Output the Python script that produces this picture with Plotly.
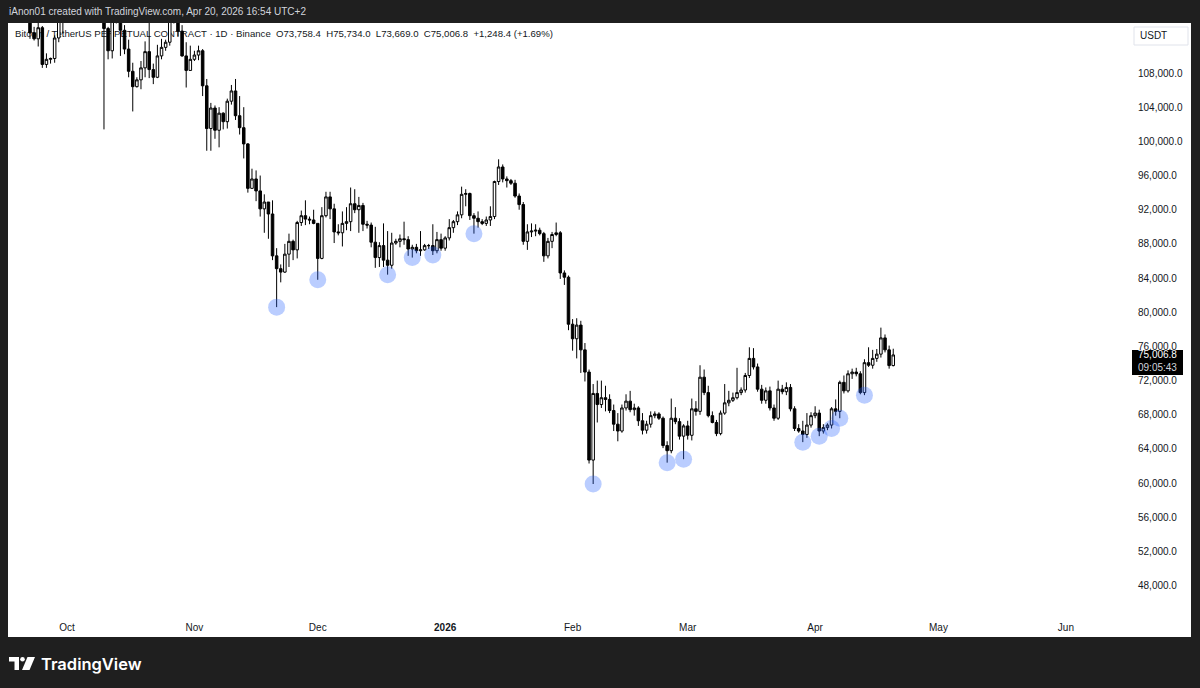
import plotly.graph_objects as go
import pandas as pd

# ---------------- data: daily OHLC in thousands of USDT (O, H, L, C) ----------------
sep_2025 = [  # from Sep 16
    (115.3, 117.0, 114.8, 116.8), (116.8, 117.3, 114.7, 116.5), (116.5, 117.9, 116.2, 117.1),
    (117.1, 117.4, 115.4, 115.7), (115.7, 116.2, 115.5, 115.7), (115.7, 115.9, 115.2, 115.3),
    (115.3, 115.4, 112.0, 112.7), (112.7, 113.4, 111.8, 112.0), (112.0, 114.0, 111.1, 113.3),
    (113.3, 113.5, 108.6, 109.0), (109.0, 110.3, 108.6, 109.6), (109.6, 109.8, 109.1, 109.7),
    (109.7, 112.4, 109.2, 112.1), (112.1, 114.5, 111.6, 114.4), (114.4, 114.8, 112.6, 114.0),
]
oct_2025 = [
    (114.0, 118.6, 113.9, 118.6), (118.6, 121.0, 118.3, 120.6), (120.6, 123.9, 119.3, 122.3),
    (122.3, 122.9, 121.6, 122.4), (122.4, 125.1, 122.0, 123.5), (123.5, 126.2, 123.0, 124.7),
    (124.7, 125.1, 120.6, 121.4), (121.4, 124.1, 121.0, 123.3), (123.3, 123.7, 119.6, 121.7),
    (121.7, 122.5, 101.4, 113.2), (113.2, 113.4, 109.6, 110.6), (110.6, 115.8, 109.7, 115.2),
    (115.2, 116.0, 113.8, 115.3), (115.3, 115.4, 110.0, 113.0), (113.0, 113.6, 110.2, 110.8),
    (110.8, 111.9, 107.5, 108.2), (108.2, 109.2, 103.5, 106.4), (106.4, 107.5, 106.3, 107.2),
    (107.2, 109.4, 106.1, 108.6), (108.6, 111.7, 107.5, 110.5), (110.5, 114.0, 107.4, 108.4),
    (108.4, 109.1, 106.7, 107.5), (107.5, 111.3, 107.4, 110.0), (110.0, 112.0, 109.6, 111.0),
    (111.0, 111.9, 110.6, 111.6), (111.6, 115.4, 111.2, 114.5), (114.5, 116.4, 113.8, 114.1),
    (114.1, 116.1, 112.3, 112.9), (112.9, 113.6, 109.9, 110.0), (110.0, 111.6, 106.3, 108.3),
    (108.3, 111.2, 108.3, 109.6),
]
nov_2025 = [
    (109.6, 110.6, 109.4, 110.1), (110.1, 111.2, 109.5, 110.6), (110.6, 110.8, 105.3, 106.5),
    (106.5, 107.3, 98.9, 101.5), (101.5, 104.5, 98.9, 103.9), (103.9, 104.2, 100.3, 101.3),
    (101.3, 104.0, 99.3, 103.3), (103.3, 103.4, 101.4, 102.3), (102.3, 105.0, 101.5, 104.7),
    (104.7, 106.6, 104.3, 105.9), (105.9, 107.3, 102.5, 103.0), (103.0, 105.3, 100.8, 101.6),
    (101.6, 104.0, 98.0, 99.7), (99.7, 99.8, 94.0, 94.5), (94.5, 96.8, 94.5, 95.6),
    (95.6, 96.6, 93.0, 94.2), (94.2, 96.0, 91.2, 92.1), (92.1, 93.8, 89.3, 92.9),
    (92.9, 92.9, 88.6, 91.5), (91.5, 93.1, 86.1, 86.6), (86.6, 87.5, 80.6, 85.1),
    (85.1, 85.6, 83.5, 84.7), (84.7, 88.0, 84.6, 86.8), (86.8, 89.2, 85.3, 88.3),
    (88.3, 88.5, 86.1, 87.3), (87.3, 90.7, 86.3, 90.5), (90.5, 91.9, 90.1, 91.3),
    (91.3, 93.1, 90.2, 90.9), (90.9, 91.2, 90.3, 90.8), (90.8, 92.0, 90.3, 90.4),
]
dec_2025 = [
    (90.4, 90.4, 83.8, 86.3), (86.3, 92.3, 86.2, 91.3), (91.3, 94.1, 91.1, 93.5),
    (93.5, 94.1, 90.9, 92.1), (92.1, 92.7, 88.1, 89.4), (89.4, 90.3, 89.0, 89.3),
    (89.3, 91.8, 87.7, 90.4), (90.4, 92.3, 89.6, 90.6), (90.6, 94.6, 89.5, 92.7),
    (92.7, 94.4, 91.6, 92.0), (92.0, 93.5, 89.3, 92.5), (92.5, 92.8, 89.5, 90.3),
    (90.3, 90.7, 89.8, 90.2), (90.2, 90.5, 87.6, 88.2), (88.2, 90.0, 85.2, 86.4),
    (86.4, 88.2, 85.3, 87.8), (87.8, 90.4, 85.3, 86.1), (86.1, 89.5, 84.4, 85.5),
    (85.5, 89.3, 85.1, 88.1), (88.1, 88.6, 87.9, 88.3), (88.3, 89.1, 87.6, 88.6),
    (88.6, 90.6, 87.9, 88.5), (88.5, 88.9, 86.6, 87.4), (87.4, 87.9, 86.4, 87.6),
    (87.6, 88.0, 86.9, 87.2), (87.2, 89.5, 86.6, 87.3), (87.3, 88.0, 87.2, 87.8),
    (87.8, 88.0, 87.4, 87.8), (87.8, 90.3, 86.7, 87.2), (87.2, 89.4, 86.9, 88.5),
    (88.5, 89.2, 87.2, 87.5),
]
jan_2026 = [
    (87.5, 88.9, 87.2, 88.7), (88.7, 90.9, 88.4, 89.9), (89.9, 90.8, 89.3, 90.6),
    (90.6, 91.8, 90.2, 91.4), (91.4, 94.7, 91.0, 93.8), (93.8, 94.4, 92.4, 93.9),
    (93.9, 94.0, 90.8, 91.3), (91.3, 91.6, 89.2, 91.0), (91.0, 91.8, 89.9, 90.6),
    (90.6, 90.9, 90.2, 90.4), (90.4, 91.2, 90.1, 90.8), (90.8, 92.4, 90.1, 91.2),
    (91.2, 95.4, 90.9, 95.3), (95.3, 97.9, 94.9, 97.0), (97.0, 97.3, 95.2, 95.6),
    (95.6, 95.9, 94.6, 95.4), (95.4, 95.6, 94.9, 95.1), (95.1, 95.5, 93.4, 93.6),
    (93.6, 93.9, 92.0, 92.6), (92.6, 92.9, 87.9, 88.3), (88.3, 90.3, 87.3, 89.4),
    (89.4, 90.4, 88.8, 89.5), (89.5, 90.3, 88.9, 89.6), (89.6, 89.9, 89.0, 89.2),
    (89.2, 89.4, 85.9, 86.6), (86.6, 88.7, 86.3, 88.3), (88.3, 89.4, 87.5, 89.1),
    (89.1, 90.5, 88.9, 89.3), (89.3, 89.5, 83.9, 84.6), (84.6, 84.9, 83.2, 84.1),
    (84.1, 84.3, 77.9, 78.6),
]
feb_2026 = [
    (78.6, 79.2, 75.5, 76.9), (76.9, 79.3, 74.6, 78.5), (78.5, 79.0, 72.9, 75.6),
    (75.6, 76.4, 71.9, 73.0), (73.0, 73.3, 62.3, 62.7), (62.7, 71.6, 59.9, 70.5),
    (70.5, 72.0, 67.1, 69.2), (69.2, 72.0, 68.8, 70.0), (70.0, 71.4, 68.4, 69.8),
    (69.8, 70.4, 68.2, 68.5), (68.5, 69.2, 66.1, 66.9), (66.9, 68.2, 64.9, 66.1),
    (66.1, 69.2, 65.9, 68.8), (68.8, 70.4, 68.5, 69.6), (69.6, 70.8, 68.3, 68.6),
    (68.6, 69.3, 67.9, 68.8), (68.8, 69.0, 66.7, 67.3), (67.3, 68.2, 65.7, 66.2),
    (66.2, 67.3, 65.8, 66.9), (66.9, 68.4, 66.5, 67.9), (67.9, 68.4, 67.6, 68.1),
    (68.1, 68.3, 67.4, 67.6), (67.6, 67.8, 64.1, 64.4), (64.4, 64.9, 62.4, 63.8),
    (63.8, 69.9, 63.5, 67.6), (67.6, 68.9, 66.9, 67.2), (67.2, 67.6, 65.1, 65.5),
    (65.5, 66.9, 62.8, 66.7),
]
mar_2026 = [
    (66.7, 67.3, 65.1, 65.6), (65.6, 69.9, 65.0, 68.7), (68.7, 69.6, 67.9, 68.4),
    (68.4, 73.8, 68.0, 72.4), (72.4, 73.3, 70.3, 70.6), (70.6, 71.4, 67.7, 67.9),
    (67.9, 68.4, 67.0, 67.1), (67.1, 67.4, 65.5, 65.8), (65.8, 68.5, 65.6, 68.2),
    (68.2, 71.6, 68.0, 69.4), (69.4, 70.8, 69.0, 69.7), (69.7, 70.6, 69.5, 70.0),
    (70.0, 73.5, 69.8, 70.6), (70.6, 71.2, 70.3, 70.9), (70.9, 72.9, 70.6, 72.6),
    (72.6, 75.9, 72.3, 74.6), (74.6, 75.8, 73.3, 73.6), (73.6, 74.0, 70.7, 71.0),
    (71.0, 71.5, 69.3, 69.7), (69.7, 71.2, 69.3, 70.8), (70.8, 71.3, 68.5, 68.8),
    (68.8, 69.2, 67.3, 67.6), (67.6, 72.0, 67.4, 71.0), (71.0, 71.5, 70.4, 70.7),
    (70.7, 71.8, 70.3, 71.2), (71.2, 71.6, 68.4, 68.7), (68.7, 69.0, 66.1, 66.4),
    (66.4, 66.9, 65.9, 66.1), (66.1, 67.3, 64.8, 65.7), (65.7, 68.2, 65.3, 66.8),
    (66.8, 68.3, 66.5, 67.9),
]
apr_2026 = [
    (67.9, 69.0, 67.6, 68.2), (68.2, 68.6, 65.5, 66.1), (66.1, 66.9, 65.8, 66.5),
    (66.5, 67.0, 66.2, 66.8), (66.8, 68.9, 66.4, 68.7), (68.7, 69.8, 67.9, 68.4),
    (68.4, 72.0, 67.6, 71.8), (71.8, 72.6, 70.5, 70.8), (70.8, 73.2, 70.6, 72.8),
    (72.8, 73.4, 72.2, 73.0), (73.0, 73.5, 72.5, 72.8), (72.8, 73.1, 70.4, 70.6),
    (70.6, 74.5, 70.3, 74.1), (74.1, 75.9, 73.6, 73.8), (73.8, 75.6, 73.4, 74.6),
    (74.6, 75.7, 74.2, 75.1), (75.1, 78.2, 74.7, 77.0), (77.0, 77.4, 75.3, 75.6),
    (75.6, 76.1, 73.4, 73.7584), (73.7584, 75.734, 73.669, 75.0068),
]
first_day = "2025-09-16"

# circled swing lows
circle_dates = ["2025-11-21", "2025-12-01", "2025-12-18", "2025-12-24", "2025-12-29",
                "2026-01-08", "2026-02-06", "2026-02-24", "2026-02-28", "2026-03-29",
                "2026-04-02", "2026-04-05", "2026-04-07", "2026-04-13"]

month_ticks = ["2025-10-01", "2025-11-01", "2025-12-01", "2026-01-01", "2026-02-01",
               "2026-03-01", "2026-04-01", "2026-05-01", "2026-06-01"]
month_labels = ["Oct", "Nov", "Dec", "<b>2026</b>", "Feb", "Mar", "Apr", "May", "Jun"]

countdown = "09:05:43"

# ---------------- build ----------------
rows = sep_2025 + oct_2025 + nov_2025 + dec_2025 + jan_2026 + feb_2026 + mar_2026 + apr_2026
dates = pd.date_range(first_day, periods=len(rows), freq="D")
o = [r[0] * 1000 for r in rows]
h = [r[1] * 1000 for r in rows]
l = [r[2] * 1000 for r in rows]
c = [r[3] * 1000 for r in rows]
low_by_date = dict(zip(dates.strftime("%Y-%m-%d"), l))
circle_lows = [low_by_date[d] for d in circle_dates]

last_o, last_h, last_l, last_c = o[-1], h[-1], l[-1], c[-1]
chg = last_c - c[-2]
pct = chg / c[-2] * 100
header = ("Bitcoin / TetherUS PERPETUAL CONTRACT · 1D · Binance  "
          f"O{last_o:,.1f}  H{last_h:,.1f}  L{last_l:,.1f}  C{last_c:,.1f}  "
          f"{chg:+,.1f} ({pct:+.2f}%)")

W, H = 1200, 688
PL, PR, PT, PB = 8, 1137, 23, 617  # plot area in pixels
Y_RANGE = [44337, 113851]


def px(xp):
    return (xp - PL) / (PR - PL)


def py(yp):
    return (PB - yp) / (PB - PT)


def price_to_px(p):
    return PB - (p - Y_RANGE[0]) / (Y_RANGE[1] - Y_RANGE[0]) * (PB - PT)


FONT = "Liberation Sans, Arial, sans-serif"
TXT = "#131722"

fig = go.Figure()

# header text on base axes (drawn under candles)
fig.add_trace(go.Scatter(
    x=[px(15)], y=[py(35)], mode="text", text=[header], textposition="middle right",
    textfont=dict(size=9.6, color=TXT, family=FONT), xaxis="x", yaxis="y",
    hoverinfo="skip", showlegend=False))

fig.add_trace(go.Candlestick(
    x=dates, open=o, high=h, low=l, close=c, xaxis="x2", yaxis="y2",
    increasing=dict(line=dict(color="#000000", width=1), fillcolor="#ffffff"),
    decreasing=dict(line=dict(color="#000000", width=1), fillcolor="#000000"),
    whiskerwidth=0, showlegend=False, hoverinfo="skip"))

fig.add_trace(go.Scatter(
    x=pd.to_datetime(circle_dates), y=circle_lows, mode="markers", xaxis="x2", yaxis="y2",
    marker=dict(size=17, color="rgba(41,98,255,0.32)", line=dict(width=0)),
    hoverinfo="skip", showlegend=False))

x_start = pd.Timestamp("2025-10-01") - pd.Timedelta(days=14.35)
x_end = pd.Timestamp("2025-10-01") + pd.Timedelta(days=260.3)

last_px = price_to_px(last_c)
shapes = [
    dict(type="rect", xref="paper", yref="paper", x0=px(8), x1=px(1191), y0=py(637), y1=py(23),
         fillcolor="#ffffff", line=dict(width=0), layer="below"),
    # USDT box
    dict(type="rect", xref="paper", yref="paper", x0=px(1134), x1=px(1188), y0=py(45), y1=py(27),
         fillcolor="#ffffff", line=dict(color="#e0e3eb", width=1)),
    # last price label
    dict(type="rect", xref="paper", yref="paper",
         x0=px(1132), x1=px(1183), y0=py(last_px + 20), y1=py(last_px - 5),
         fillcolor="#000000", line=dict(width=0)),
    # TradingView logo
    dict(type="rect", xref="paper", yref="paper", x0=px(9), x1=px(19), y0=py(661.5), y1=py(657),
         fillcolor="#ffffff", line=dict(width=0)),
    dict(type="rect", xref="paper", yref="paper", x0=px(14.5), x1=px(19), y0=py(670), y1=py(657),
         fillcolor="#ffffff", line=dict(width=0)),
    dict(type="circle", xref="paper", yref="paper", x0=px(20.2), x1=px(24.8), y0=py(661.6), y1=py(657),
         fillcolor="#ffffff", line=dict(width=0)),
    dict(type="path", xref="paper", yref="paper",
         path=f"M {px(27.5)} {py(657)} L {px(35)} {py(657)} L {px(29.5)} {py(670)} L {px(22)} {py(670)} Z",
         fillcolor="#ffffff", line=dict(width=0)),
]

annotations = [
    dict(text="iAnon01 created with TradingView.com, Apr 20, 2026 16:54 UTC+2", xref="paper", yref="paper",
         x=px(7), y=py(12), xanchor="left", yanchor="middle", showarrow=False,
         font=dict(size=10, color="#d1d4dc", family=FONT)),
    dict(text="USDT", xref="paper", yref="paper", x=px(1153), y=py(36), xanchor="center", yanchor="middle",
         showarrow=False, font=dict(size=10, color=TXT, family=FONT)),
    dict(text=f"{last_c:,.1f}", xref="paper", yref="paper", x=px(1157.5), y=py(last_px), xanchor="center",
         yanchor="middle", showarrow=False, font=dict(size=10, color="#ffffff", family=FONT)),
    dict(text=countdown, xref="paper", yref="paper", x=px(1157.5), y=py(last_px + 13), xanchor="center",
         yanchor="middle", showarrow=False, font=dict(size=10, color="#d1d4dc", family=FONT)),
    dict(text="TradingView", xref="paper", yref="paper", x=px(39), y=py(663.5), xanchor="left",
         yanchor="middle", showarrow=False,
         font=dict(size=16.5, color="#ffffff", family="Inter, sans-serif", weight=600)),
]

fig.update_layout(
    width=W, height=H,
    margin=dict(l=PL, r=W - PR, t=PT, b=H - PB, pad=0),
    paper_bgcolor="#1f1f1f", plot_bgcolor="#ffffff",
    showlegend=False, hovermode=False, dragmode=False,
    boxgap=0.12,
    shapes=shapes, annotations=annotations,
    xaxis=dict(range=[0, 1], visible=False, fixedrange=True),
    yaxis=dict(range=[0, 1], visible=False, fixedrange=True),
    xaxis2=dict(overlaying="x", anchor="y2", type="date", range=[x_start, x_end],
                tickmode="array", tickvals=month_ticks, ticktext=month_labels,
                showgrid=False, zeroline=False, showline=False, ticks="",
                ticklabelstandoff=3,
                tickfont=dict(size=10, color=TXT, family=FONT), rangeslider=dict(visible=False),
                fixedrange=True),
    yaxis2=dict(overlaying="y", anchor="x2", side="right", range=Y_RANGE,
                tick0=0, dtick=4000, tickformat=",.1f", showgrid=False, zeroline=False,
                showline=False, ticks="", tickfont=dict(size=10, color=TXT, family=FONT),
                fixedrange=True),
)

fig.write_html(
    "out.html",
    config={"displayModeBar": False, "staticPlot": True},
    post_script="document.body.style.margin='0';document.body.style.background='#1f1f1f';",
)
